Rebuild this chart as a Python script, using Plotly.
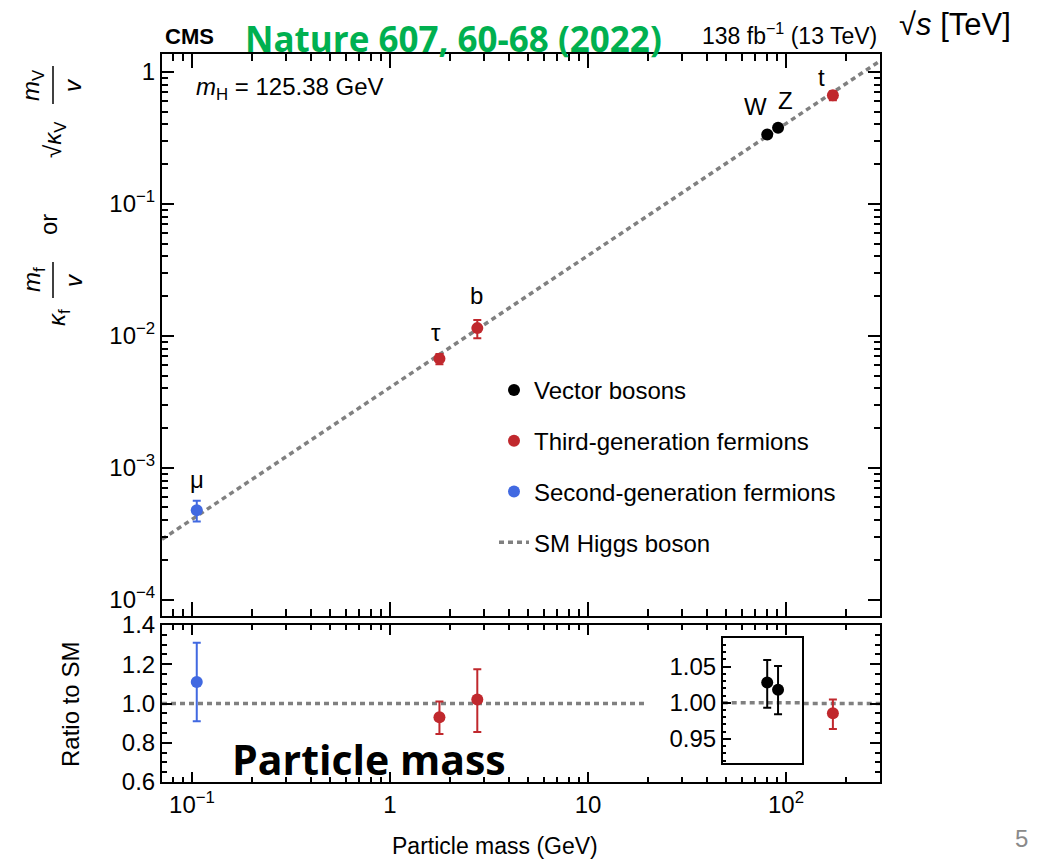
import math
import plotly.graph_objects as go

# ---------------- data ----------------
V_EV = 246.22  # Higgs vacuum expectation value (GeV)

vec_names = ["W", "Z"]
vec_mass = [80.38, 91.19]
vec_ratio = [1.028, 1.018]
vec_err_up = [0.031, 0.033]
vec_err_dn = [0.035, 0.034]

third_names = ["τ", "b", "t"]
third_mass = [1.777, 2.76, 172.5]
third_ratio = [0.93, 1.02, 0.95]
third_err_up = [0.08, 0.155, 0.07]
third_err_dn = [0.085, 0.165, 0.08]

second_names = ["μ"]
second_mass = [0.1057]
second_ratio = [1.11]
second_err_up = [0.20]
second_err_dn = [0.20]

x_major = [0.1, 1, 10, 100]
x_major_text = ["10<sup>−1</sup>", "1", "10", "10<sup>2</sup>"]
x_minor = [0.07, 0.08, 0.09] + [k * 0.1 for k in range(2, 10)] + list(range(2, 10)) + \
          [k * 10 for k in range(2, 10)] + [200, 300]
y_major = [1e-4, 1e-3, 1e-2, 1e-1, 1]
y_major_text = ["10<sup>−4</sup>", "10<sup>−3</sup>", "10<sup>−2</sup>", "10<sup>−1</sup>", "1"]
y_minor = [k * 10.0 ** e for e in range(-4, 0) for k in range(2, 10)]
r_major = [0.6, 0.8, 1.0, 1.2, 1.4]
r_major_text = ["0.6", "0.8", "1.0", "1.2", "1.4"]
inset_major = [0.95, 1.00, 1.05]
inset_major_text = ["0.95", "1.00", "1.05"]

# ---------------- layout constants ----------------
W, H = 1043, 859
ML, MR, MT, MB = 162, 163, 54, 77
XLOG = [-1.1515, 2.4747]
YLOG = [-4.124, 0.136]
R_RANGE = [0.6, 1.4]
INSET_X = [47.9, 120.9]
INSET_Y = [0.917, 1.090]
SM_GAP = [20.0, 47.9]

FONT = "Liberation Sans"
BLACK = "#000000"
RED = "#c0282d"
BLUE = "#4169e1"
GREY = "#808080"


def px(x):
    return (x - ML) / (W - ML - MR)


def py(y):
    return 1 - (y - MT) / (H - MT - MB)


def scaled(vals, masses):
    return [v * m / V_EV for v, m in zip(vals, masses)]


fig = go.Figure()

# SM line in the upper panel
x_lo, x_hi = 10 ** XLOG[0], 10 ** XLOG[1]
fig.add_trace(go.Scatter(
    x=[x_lo, x_hi], y=[x_lo / V_EV, x_hi / V_EV], mode="lines",
    line=dict(color=GREY, width=3.5, dash="5px,4px"),
    name="SM Higgs boson", legendgroup="d", legendrank=4,
    xaxis="x", yaxis="y", hoverinfo="skip"))

groups = [
    ("Vector bosons", vec_mass, vec_ratio, vec_err_up, vec_err_dn, BLACK, "a", 1),
    ("Third-generation fermions", third_mass, third_ratio, third_err_up, third_err_dn, RED, "b", 2),
    ("Second-generation fermions", second_mass, second_ratio, second_err_up, second_err_dn, BLUE, "c", 3),
]
for name, m, r, eu, ed, col, grp, rank in groups:
    fig.add_trace(go.Scatter(
        x=m, y=scaled(r, m), mode="markers",
        marker=dict(size=12, color=col),
        error_y=dict(type="data", symmetric=False, array=scaled(eu, m),
                     arrayminus=scaled(ed, m), color=col, thickness=2, width=4),
        name=name, legendgroup=grp, legendrank=rank, xaxis="x", yaxis="y"))

# ratio panel
fig.add_trace(go.Scatter(
    x=[x_lo, SM_GAP[0], None, SM_GAP[1], x_hi], y=[1, 1, None, 1, 1], mode="lines",
    line=dict(color=GREY, width=3.5, dash="5px,4px"), showlegend=False,
    xaxis="x2", yaxis="y2", hoverinfo="skip"))
for name, m, r, eu, ed, col, grp, rank in groups[1:]:
    fig.add_trace(go.Scatter(
        x=m, y=r, mode="markers", marker=dict(size=12, color=col),
        error_y=dict(type="data", symmetric=False, array=eu, arrayminus=ed,
                     color=col, thickness=2, width=4),
        showlegend=False, xaxis="x2", yaxis="y2"))

# inset
fig.add_trace(go.Scatter(
    x=INSET_X, y=[1, 1], mode="lines",
    line=dict(color=GREY, width=3.5, dash="5px,4px"), showlegend=False,
    xaxis="x3", yaxis="y3", hoverinfo="skip"))
fig.add_trace(go.Scatter(
    x=vec_mass, y=vec_ratio, mode="markers", marker=dict(size=12, color=BLACK),
    error_y=dict(type="data", symmetric=False, array=vec_err_up, arrayminus=vec_err_dn,
                 color=BLACK, thickness=2, width=4),
    showlegend=False, xaxis="x3", yaxis="y3"))

frame = dict(showline=True, linecolor=BLACK, linewidth=2, showgrid=False, zeroline=False)

top_dom = [py(616), 1]
bot_dom = [0, py(625)]
TICKFONT = dict(size=24, family=FONT, color=BLACK)

fig.update_layout(
    width=W, height=H, margin=dict(l=ML, r=MR, t=MT, b=MB),
    paper_bgcolor="white", plot_bgcolor="white",
    font=dict(family=FONT, size=23, color=BLACK),
    xaxis=dict(type="log", range=XLOG, domain=[0, 1], anchor="y", showticklabels=False,
               ticks="inside", ticklen=14, tickwidth=1.5, tickcolor=BLACK, mirror="allticks",
               tickmode="array", tickvals=x_major,
               minor=dict(tickmode="array", tickvals=x_minor, ticks="inside", ticklen=7,
                          tickwidth=1.5, tickcolor=BLACK, showgrid=False),
               **frame),
    yaxis=dict(type="log", range=YLOG, domain=top_dom, anchor="x", tickfont=TICKFONT,
               ticks="inside", ticklen=12, tickwidth=1.5, tickcolor=BLACK, mirror="allticks",
               tickmode="array", tickvals=y_major, ticktext=y_major_text,
               minor=dict(tickmode="array", tickvals=y_minor, ticks="inside", ticklen=6,
                          tickwidth=1.5, tickcolor=BLACK, showgrid=False),
               **frame),
    xaxis2=dict(type="log", range=XLOG, domain=[0, 1], anchor="y2", tickfont=TICKFONT,
                ticks="inside", ticklen=10, tickwidth=1.5, tickcolor=BLACK, mirror="allticks",
                tickmode="array", tickvals=x_major, ticktext=x_major_text,
                minor=dict(tickmode="array", tickvals=x_minor, ticks="inside", ticklen=5,
                           tickwidth=1.5, tickcolor=BLACK, showgrid=False),
                **frame),
    yaxis2=dict(range=R_RANGE, domain=bot_dom, anchor="x2", tickfont=TICKFONT,
                ticks="inside", ticklen=10, tickwidth=1.5, tickcolor=BLACK, mirror="allticks",
                tickmode="array", tickvals=r_major, ticktext=r_major_text,
                minor=dict(tickmode="linear", tick0=0, dtick=0.05, ticks="inside", ticklen=5,
                           tickwidth=1.5, tickcolor=BLACK, showgrid=False),
                **frame),
    xaxis3=dict(type="log", range=[math.log10(INSET_X[0]), math.log10(INSET_X[1])],
                domain=[px(722.7), px(802.3)], anchor="y3", showticklabels=False, ticks="",
                showline=True, linecolor=BLACK, linewidth=1.5, mirror=True,
                showgrid=False, zeroline=False),
    yaxis3=dict(range=INSET_Y, domain=[py(762.7), py(637.7)], anchor="x3", tickfont=TICKFONT,
                ticks="inside", ticklen=9, tickwidth=1.5, tickcolor=BLACK,
                tickmode="array", tickvals=inset_major, ticktext=inset_major_text,
                minor=dict(tickmode="linear", tick0=0, dtick=0.01, ticks="inside", ticklen=4,
                           tickwidth=1.5, tickcolor=BLACK, showgrid=False),
                showline=True, linecolor=BLACK, linewidth=1.5, mirror=True,
                showgrid=False, zeroline=False),
    legend=dict(x=px(494), y=py(368), xanchor="left", yanchor="top",
                bgcolor="rgba(0,0,0,0)", font=dict(size=24), tracegroupgap=16.5),
    showlegend=True,
)


def ann(text, x, y, size=23, xanchor="center", yanchor="middle", angle=0,
        color=BLACK, family=FONT):
    return dict(text=text, x=px(x), y=py(y), xref="paper", yref="paper", showarrow=False,
                font=dict(size=size, color=color, family=family),
                xanchor=xanchor, yanchor=yanchor, textangle=angle)


annotations = [
    ann("<b>CMS</b>", 163, 36, size=22, xanchor="left"),
    ann("<b>Nature 607, 60-68 (2022)</b>", 243, 38, size=35, xanchor="left",
        color="#00b050", family="Open Sans"),
    ann("138 fb<sup>−1</sup> (13 TeV)", 879, 34, size=23, xanchor="right"),
    ann("√<i>s</i> [TeV]", 897, 25, size=31, xanchor="left"),
    ann("<i>m</i><sub>H</sub> = 125.38 GeV", 194, 88, size=24, xanchor="left"),
    ann("Particle mass (GeV)", 495, 846, size=23),
    ann("Ratio to SM", 70, 705, size=24, angle=-90),
    ann("<b>Particle mass</b>", 230, 759, size=41, xanchor="left", family="Open Sans"),
    ann("5", 1022, 838, size=24, color="#8a8a8a"),
    # y-axis title of the upper panel (rotated)
    ann("<i>m</i><sub>V</sub>", 33, 85, size=24, angle=-90),
    ann("<i>v</i>", 73, 85, size=24, angle=-90),
    ann("√<i>κ</i><sub>V</sub>", 54, 140, size=24, angle=-90),
    ann("or", 48, 225, size=24, angle=-90),
    ann("<i>m</i><sub>f</sub>", 33, 280, size=24, angle=-90),
    ann("<i>v</i>", 73, 280, size=24, angle=-90),
    ann("<i>κ</i><sub>f</sub>", 58, 318, size=24, angle=-90),
]

# particle labels attached to the points
label_shift = {"W": (-12, 28), "Z": (7, 27), "t": (-11, 18), "b": (-1, 33),
               "τ": (-3, 26), "μ": (0, 31)}
for names, m, r in [(vec_names, vec_mass, vec_ratio), (third_names, third_mass, third_ratio),
                    (second_names, second_mass, second_ratio)]:
    for n, mm, yy in zip(names, m, scaled(r, m)):
        dx, dy = label_shift[n]
        annotations.append(dict(text=n, x=math.log10(mm), y=math.log10(yy), xref="x", yref="y",
                                showarrow=False, xshift=dx, yshift=dy,
                                font=dict(size=24, family=FONT, color=BLACK)))

fig.update_layout(annotations=annotations)

shapes = [
    dict(type="line", xref="paper", yref="paper", x0=px(53), x1=px(53), y0=py(66), y1=py(104),
         line=dict(color=BLACK, width=1.5)),
    dict(type="line", xref="paper", yref="paper", x0=px(53), x1=px(53), y0=py(262), y1=py(298),
         line=dict(color=BLACK, width=1.5)),
]
fig.update_layout(shapes=shapes)

fig.write_html("out.html")
